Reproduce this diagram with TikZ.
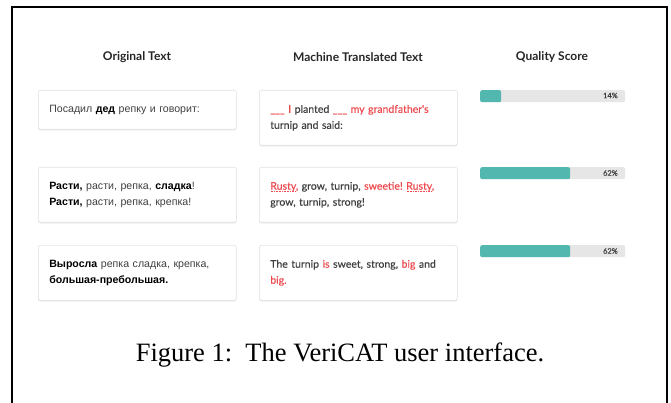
\documentclass[tikz,border=0pt]{standalone}
\usepackage{fontspec}
\setmainfont{Liberation Serif}
\newfontfamily\lato{Lato}[FakeBold=0.35]
\newfontfamily\latohead{Lato}
\newfontfamily\rus{Liberation Sans}
\usetikzlibrary{shadows}
\definecolor{boxline}{HTML}{E2E2E2}
\definecolor{barteal}{HTML}{52B8AF}
\definecolor{barbg}{HTML}{E6E6E6}
\definecolor{tred}{HTML}{EE4B50}
\definecolor{tgray}{HTML}{404040}
\frenchspacing
\newcommand\spellmark[1]{\setbox0=\hbox{#1}\rlap{\raisebox{-2.2pt}{\color{tred}\hbox to \wd0{\xleaders\hbox to 1.6pt{\hss\rule{0.9pt}{0.7pt}\hss}\hfill}}}#1}
\newcommand\rd[1]{\textcolor{tred}{#1}}
\tikzset{
  uibox/.style={draw=boxline, fill=white, rounded corners=2pt, line width=0.6pt,
    drop shadow={shadow xshift=0pt, shadow yshift=-1pt, opacity=0.12, fill=black},
    minimum width=198pt, text width=176pt, align=left, anchor=north west, inner sep=0pt,
    font=\fontsize{10.5}{16}\selectfont, text=tgray},
  rusbox/.style={uibox, font=\rus\fontsize{10.6}{16}\selectfont},
  enbox/.style={uibox, font=\lato\fontsize{10.5}{16}\selectfont},
  head/.style={font=\latohead\bfseries\fontsize{12}{14}\selectfont, text=black!85},
  barbgbox/.style={fill=barbg, rounded corners=2pt, minimum width=145pt, minimum height=12pt, inner sep=0pt, anchor=north west},
  barfillbox/.style={fill=barteal, rounded corners=2pt, minimum height=12pt, inner sep=0pt, anchor=north west},
  pct/.style={font=\lato\fontsize{7.5}{8}\selectfont, text=black!75, anchor=east, inner sep=0pt},
  frameline/.style={line width=1.3pt, draw=black}
}
\begin{document}
\begin{tikzpicture}[x=1pt,y=-1pt]
\useasboundingbox (0,0) rectangle (671,403);
\coordinate (fbl) at (12,420);
\coordinate (ftl) at (12,7);
\coordinate (ftr) at (667,7);
\coordinate (fbr) at (667,420);
\draw[frameline] (fbl) -- (ftl) -- (ftr) -- (fbr);

\node[head] (h1) at (137,57) {Original Text};
\node[head] (h2) at (358,57) {Machine Translated Text};
\node[head] (h3) at (552,57) {Quality Score};

% row 1
\node[rusbox, minimum height=39pt] (o1) at (38,90) {Посадил \textbf{\color{black}дед} репку и говорит:};
\node[enbox, minimum height=55pt] (m1) at (259,90) {\rd{\_\_\_ I} planted \rd{\_\_\_ my grandfather's}\\turnip and said:};
\node[barbgbox] (bg1) at (480,90) {};
\node[barfillbox, minimum width=21pt] (bf1) at (480,90) {};
\node[pct] (p1) at (618,95.5) {14\%};

% row 2
\node[rusbox, minimum height=55pt] (o2) at (38,167) {\textbf{\color{black}Расти,} расти, репка, \textbf{\color{black}сладка}!\\\textbf{\color{black}Расти,} расти, репка, крепка!};
\node[enbox, minimum height=55pt] (m2) at (259,167) {\rd{\spellmark{Rusty},} grow, turnip, \rd{sweetie! \spellmark{Rusty},}\\grow, turnip, strong!};
\node[barbgbox] (bg2) at (480,167) {};
\node[barfillbox, minimum width=90pt] (bf2) at (480,167) {};
\node[pct] (p2) at (618,173) {62\%};

% row 3
\node[rusbox, minimum height=55pt] (o3) at (38,245) {\textbf{\color{black}Выросла} репка сладка, крепка,\\\textbf{\color{black}большая-пребольшая.}};
\node[enbox, minimum height=55pt] (m3) at (259,245) {The turnip \rd{is} sweet, strong, \rd{big} and\\\rd{big.}};
\node[barbgbox] (bg3) at (480,245) {};
\node[barfillbox, minimum width=90pt] (bf3) at (480,245) {};
\node[pct] (p3) at (618,251) {62\%};

\node[font=\fontsize{26.5}{30}\selectfont] (cap) at (340,355) {Figure 1:\ \ The VeriCAT user interface.};
\end{tikzpicture}
\end{document}
